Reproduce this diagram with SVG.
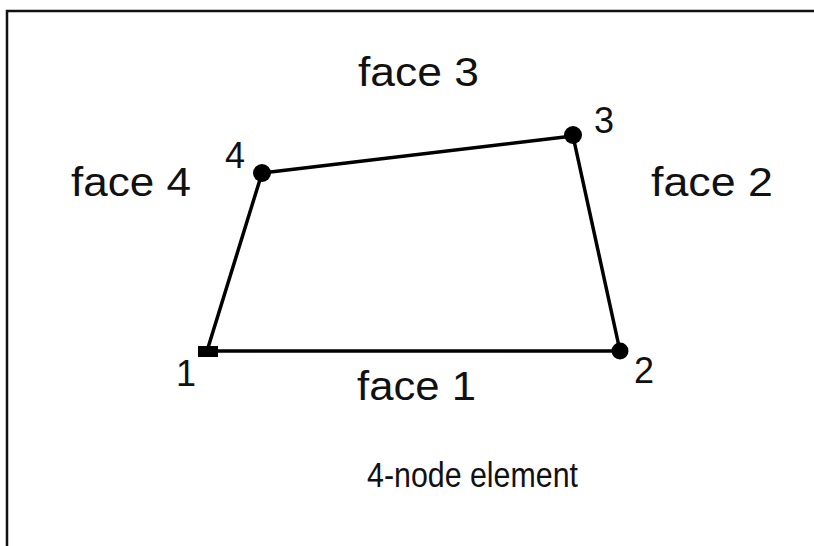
<svg xmlns="http://www.w3.org/2000/svg" width="814" height="546" viewBox="0 0 814 546">
<style>
.t{font-family:"Liberation Sans",Arial,sans-serif;font-size:40px;fill:#111}
.n{font-family:"Liberation Sans",Arial,sans-serif;font-size:36px;fill:#111}
.c{font-family:"Liberation Sans",Arial,sans-serif;font-size:35px;fill:#111}
.e{stroke:#000;stroke-width:3.5;fill:none;stroke-linecap:round}
.d{fill:#000}
</style>
<rect width="814" height="546" fill="#fff"/>
<g id="frame">
<path d="M7 546 V11 H814" stroke="#111" stroke-width="2.5" fill="none"/>
</g>
<g id="connectors">
<line class="e" x1="207" y1="351" x2="620" y2="351"/>
<line class="e" x1="620" y1="351" x2="573" y2="136"/>
<line class="e" x1="573" y1="136" x2="262" y2="173"/>
<line class="e" x1="262" y1="173" x2="207" y2="351"/>
</g>
<g id="node1"><rect class="d" x="198" y="346" width="20" height="11"/><text class="n" x="176" y="386">1</text></g>
<g id="node2"><circle class="d" cx="620" cy="351" r="8.5"/><text class="n" x="634" y="383">2</text></g>
<g id="node3"><circle class="d" cx="573" cy="135" r="9"/><text class="n" x="594" y="133">3</text></g>
<g id="node4"><circle class="d" cx="262" cy="173" r="9"/><text class="n" x="225" y="168">4</text></g>
<g id="labels">
<text class="t" x="358" y="86" textLength="121" lengthAdjust="spacingAndGlyphs">face 3</text>
<text class="t" x="71" y="196" textLength="120" lengthAdjust="spacingAndGlyphs">face 4</text>
<text class="t" x="651" y="196" textLength="122" lengthAdjust="spacingAndGlyphs">face 2</text>
<text class="t" x="357" y="400" textLength="119" lengthAdjust="spacingAndGlyphs">face 1</text>
<text class="c" x="367" y="487" textLength="211" lengthAdjust="spacingAndGlyphs">4-node element</text>
</g>
</svg>
